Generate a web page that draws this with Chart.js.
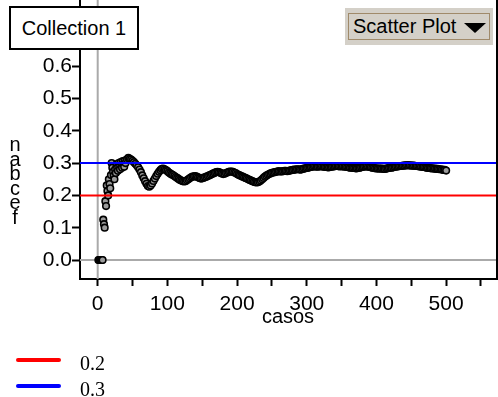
<!DOCTYPE html>
<html>
<head>
<meta charset="utf-8">
<script src="https://cdn.jsdelivr.net/npm/chart.js@4"></script>
<style>
  body { margin: 0; background: #fff; }
  #wrap { position: relative; width: 498px; height: 397px; overflow: hidden; font-family: "Liberation Sans", Arial, sans-serif; }
  #grafico { position: absolute; left: 0; top: 0; }
  .caja { position: absolute; box-sizing: border-box; }
  #coleccion { left: 9px; top: 6px; width: 130px; height: 44px; border: 2px solid #000; background: #fff;
    font-size: 20px; line-height: 40px; text-align: center; }
  #tipo { left: 345px; top: 8px; width: 148px; height: 37px; background: #d4d0c8; }
  #tipo .borde { position: absolute; left: 3px; top: 5px; right: 3px; bottom: 5px; border: 1px solid #a08a6a; }
  #tipo .txt { position: absolute; left: 8px; top: 5px; font-size: 20px; line-height: 27px; }
  #tipo .flecha { position: absolute; left: 119px; top: 15px; width: 0; height: 0;
    border-left: 11px solid transparent; border-right: 11px solid transparent; border-top: 10px solid #000; }
  #ytitulo { position: absolute; left: 8px; top: 137px; width: 14px; font-size: 20px; line-height: 14.5px; text-align: center; }
  #xtitulo { position: absolute; left: 238px; top: 305px; width: 100px; text-align: center; font-size: 20px; }
  .ley { position: absolute; left: 16px; width: 45px; height: 4px; border-radius: 2px; }
  .leytxt { position: absolute; left: 80px; font-family: "Liberation Serif", "Times New Roman", serif; font-size: 20px; line-height: 20px; }
</style>
</head>
<body>
<div id="wrap">
  <canvas id="grafico" width="498" height="397"></canvas>
  <div class="caja" id="coleccion">Collection 1</div>
  <div class="caja" id="tipo"><div class="borde"></div><span class="txt">Scatter Plot</span><div class="flecha"></div></div>
  <div id="ytitulo">n<br>a<br>b<br>c<br>e<br>f</div>
  <div id="xtitulo">casos</div>
  <div class="ley" style="top:358px;background:#ff0000"></div>
  <div class="leytxt" style="top:353px">0.2</div>
  <div class="ley" style="top:384px;background:#0000ff"></div>
  <div class="leytxt" style="top:379px">0.3</div>
</div>
<script>
// casos (x) y proporcion acumulada (y)
var casos = [1, 2, 3, 4, 5, 6, 7, 8, 9, 10, 11, 12, 13, 14, 15, 16, 17, 18, 19, 20,
    21, 22, 23, 24, 25, 26, 27, 28, 29, 30, 31, 32, 33, 34, 35, 36, 37, 38, 39, 40,
    42, 44, 46, 48, 50, 52, 54, 56, 58, 60,
    62, 64, 66, 68, 70, 72, 74, 76, 78, 80,
    82, 84, 86, 88, 90, 92, 94, 96, 98, 100,
    102, 104, 106, 108, 110, 112, 114, 116, 118, 120,
    122, 124, 126, 128, 130, 132, 134, 136, 138, 140,
    142, 144, 146, 148, 150, 152, 154, 156, 158, 160,
    162, 164, 166, 168, 170, 172, 174, 176, 178, 180,
    182, 184, 186, 188, 190, 192, 194, 196, 198, 200,
    202, 204, 206, 208, 210, 212, 214, 216, 218, 220,
    222, 224, 226, 228, 230, 232, 234, 236, 238, 240,
    242, 244, 246, 248, 250, 252, 254, 256, 258, 260,
    262, 264, 266, 268, 270, 272, 274, 276, 278, 280,
    282, 284, 286, 288, 290, 292, 294, 296, 298, 300,
    302, 304, 306, 308, 310, 312, 314, 316, 318, 320,
    322, 324, 326, 328, 330, 332, 334, 336, 338, 340,
    342, 344, 346, 348, 350, 352, 354, 356, 358, 360,
    362, 364, 366, 368, 370, 372, 374, 376, 378, 380,
    382, 384, 386, 388, 390, 392, 394, 396, 398, 400,
    402, 404, 406, 408, 410, 412, 414, 416, 418, 420,
    422, 424, 426, 428, 430, 432, 434, 436, 438, 440,
    442, 444, 446, 448, 450, 452, 454, 456, 458, 460,
    462, 464, 466, 468, 470, 472, 474, 476, 478, 480,
    482, 484, 486, 488, 490, 492, 494, 496, 498, 500];
var proporcion = [0, 0, 0, 0, 0, 0, 0, 0.125, 0.111, 0.1, 0.182, 0.167, 0.231, 0.214, 0.2, 0.25, 0.235, 0.222, 0.263, 0.3,
    0.286, 0.273, 0.261, 0.25, 0.28, 0.269, 0.296, 0.286, 0.276, 0.3, 0.29, 0.281, 0.303, 0.294, 0.286, 0.306, 0.297, 0.289, 0.308, 0.3,
    0.312, 0.316, 0.313, 0.311, 0.307, 0.303, 0.298, 0.293, 0.287, 0.28,
    0.272, 0.262, 0.253, 0.244, 0.236, 0.229, 0.227, 0.231, 0.237, 0.245,
    0.252, 0.26, 0.267, 0.273, 0.278, 0.282, 0.283, 0.281, 0.278, 0.275,
    0.271, 0.268, 0.265, 0.263, 0.26, 0.257, 0.254, 0.251, 0.248, 0.246,
    0.244, 0.243, 0.244, 0.247, 0.25, 0.253, 0.256, 0.258, 0.259, 0.26,
    0.258, 0.256, 0.254, 0.252, 0.253, 0.255, 0.256, 0.258, 0.26, 0.262,
    0.264, 0.266, 0.268, 0.27, 0.272, 0.273, 0.272, 0.27, 0.268, 0.266,
    0.267, 0.269, 0.271, 0.273, 0.274, 0.274, 0.273, 0.271, 0.269, 0.266,
    0.264, 0.262, 0.26, 0.258, 0.256, 0.254, 0.252, 0.25, 0.248, 0.246,
    0.244, 0.242, 0.241, 0.24, 0.241, 0.243, 0.246, 0.25, 0.254, 0.258,
    0.261, 0.264, 0.266, 0.268, 0.27, 0.271, 0.272, 0.273, 0.274, 0.275,
    0.274, 0.274, 0.275, 0.276, 0.276, 0.275, 0.276, 0.277, 0.278, 0.279,
    0.28, 0.28, 0.281, 0.281, 0.28, 0.28, 0.282, 0.283, 0.284, 0.285,
    0.286, 0.287, 0.288, 0.289, 0.29, 0.29, 0.289, 0.289, 0.29, 0.29,
    0.29, 0.289, 0.288, 0.288, 0.287, 0.287, 0.288, 0.289, 0.29, 0.29,
    0.291, 0.291, 0.29, 0.29, 0.29, 0.29, 0.289, 0.289, 0.288, 0.287,
    0.286, 0.286, 0.285, 0.285, 0.284, 0.284, 0.285, 0.286, 0.287, 0.288,
    0.289, 0.29, 0.29, 0.289, 0.288, 0.287, 0.286, 0.285, 0.284, 0.284,
    0.283, 0.283, 0.283, 0.283, 0.282, 0.282, 0.283, 0.284, 0.285, 0.286,
    0.286, 0.287, 0.288, 0.289, 0.29, 0.29, 0.291, 0.291, 0.292, 0.292,
    0.293, 0.293, 0.293, 0.293, 0.292, 0.292, 0.292, 0.291, 0.291, 0.29,
    0.29, 0.289, 0.288, 0.288, 0.287, 0.286, 0.285, 0.285, 0.284, 0.284,
    0.283, 0.283, 0.282, 0.282, 0.281, 0.281, 0.28, 0.279, 0.279, 0.277];

var xTicks = [0, 50, 100, 150, 200, 250, 300, 350, 400, 450, 500, 550];
var yTicks = [0, 0.1, 0.2, 0.3, 0.4, 0.5, 0.6];
var lineasValor = [0.2, 0.3];
var lineasColor = ['#ff0000', '#0000ff'];

var puntos = casos.map(function (c, i) {
    return {x: c, y: proporcion[i]};
});

var lineasRef = {
    id: 'lineasRef',
    beforeDatasetsDraw: function (chart) {
        let ctx = chart.ctx, a = chart.chartArea;
        let x0 = chart.scales.x.getPixelForValue(0);
        let y0 = chart.scales.y.getPixelForValue(0);
        ctx.save();
        ctx.strokeStyle = '#aaaaaa';
        ctx.lineWidth = 2;
        ctx.beginPath();
        ctx.moveTo(a.left, y0);
        ctx.lineTo(a.right, y0);
        ctx.moveTo(x0, a.top);
        ctx.lineTo(x0, a.bottom);
        ctx.stroke();
        ctx.restore();
    },
    afterDatasetsDraw: function (chart) {
        let ctx = chart.ctx, a = chart.chartArea;
        ctx.save();
        ctx.lineWidth = 2;
        lineasValor.forEach(function (v, i) {
            let y = chart.scales.y.getPixelForValue(v);
            ctx.strokeStyle = lineasColor[i];
            ctx.beginPath();
            ctx.moveTo(a.left, y);
            ctx.lineTo(a.right, y);
            ctx.stroke();
        });
        // borde derecho
        ctx.strokeStyle = '#000';
        ctx.beginPath();
        ctx.moveTo(a.right, a.top);
        ctx.lineTo(a.right, a.bottom);
        ctx.stroke();
        ctx.restore();
    }
};

var fuente = {family: '"Liberation Sans", Arial, sans-serif', size: 21};

new Chart(document.getElementById('grafico'), {
    type: 'scatter',
    data: {
        datasets: [{
            data: puntos,
            pointRadius: 3.3,
            pointBorderWidth: 1.6,
            pointBackgroundColor: '#9a9a9a',
            pointBorderColor: '#000',
            pointHoverRadius: 3.3
        }]
    },
    options: {
        responsive: false,
        animation: false,
        events: [],
        layout: {autoPadding: false, padding: {top: 0, right: 1, left: 0, bottom: 0}},
        plugins: {legend: {display: false}, tooltip: {enabled: false}},
        scales: {
            x: {
                type: 'linear',
                min: -25.4,
                max: 573,
                afterBuildTicks: function (scale) {
                    scale.ticks = xTicks.map(function (v) { return {value: v}; });
                },
                afterFit: function (scale) {
                    scale.height = 118;
                    scale.paddingLeft = 0;
                    scale.paddingRight = 0;
                },
                grid: {drawOnChartArea: false, drawTicks: true, tickLength: 7, tickColor: '#000', tickWidth: 2},
                border: {display: true, color: '#000', width: 2},
                ticks: {
                    color: '#000', font: fuente, padding: 6, maxRotation: 0, autoSkip: false,
                    callback: function (v) { return v % 100 === 0 ? String(v) : ''; }
                }
            },
            y: {
                min: -0.0588,
                max: 0.805,
                afterBuildTicks: function (scale) {
                    scale.ticks = yTicks.map(function (v) { return {value: v}; });
                },
                afterFit: function (scale) {
                    scale.width = 80;
                    scale.paddingTop = 0;
                    scale.paddingBottom = 0;
                },
                grid: {drawOnChartArea: false, drawTicks: true, tickLength: 8, tickColor: '#000', tickWidth: 2},
                border: {display: true, color: '#000', width: 2},
                ticks: {
                    color: '#000', font: fuente, padding: 0, autoSkip: false,
                    callback: function (v) { return v.toFixed(1); }
                }
            }
        }
    },
    plugins: [lineasRef]
});
</script>
</body>
</html>
